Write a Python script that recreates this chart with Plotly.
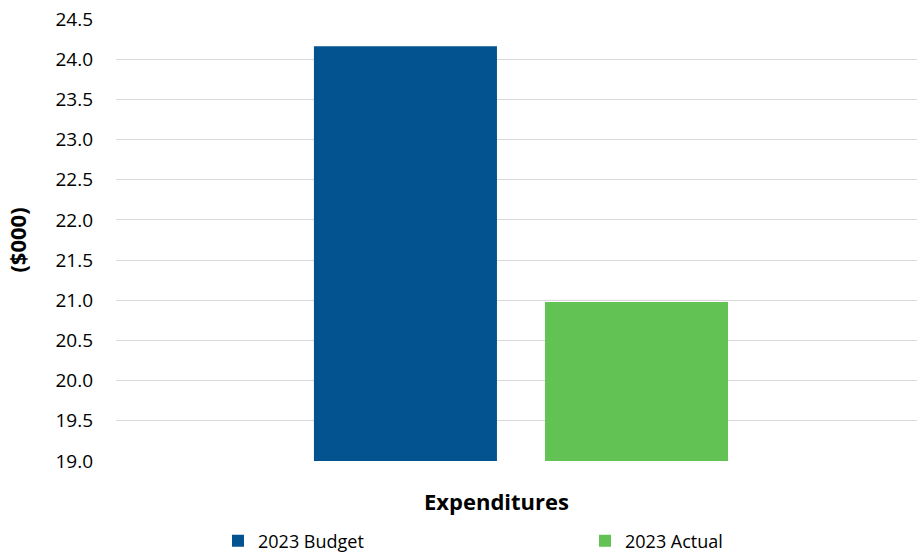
import plotly.graph_objects as go

categories = ["Expenditures"]
series_names = ["2023 Budget", "2023 Actual"]
budget_values = [24.16]
actual_values = [20.98]
colors = ["#02538F", "#63C254"]
y_ticks = [19.0, 19.5, 20.0, 20.5, 21.0, 21.5, 22.0, 22.5, 23.0, 23.5, 24.0, 24.5]

FONT = "Open Sans"

fig = go.Figure()
fig.add_trace(go.Bar(x=categories, y=budget_values, name=series_names[0],
                     marker=dict(color=colors[0], line=dict(width=0)), legend="legend"))
fig.add_trace(go.Bar(x=categories, y=actual_values, name=series_names[1],
                     marker=dict(color=colors[1], line=dict(width=0)), legend="legend2"))

legend_common = dict(orientation="h", xref="container", yref="container",
                     xanchor="left", yanchor="middle", y=(554 - 541) / 554,
                     font=dict(family=FONT, size=18, color="#000000"),
                     itemwidth=30, bgcolor="rgba(0,0,0,0)")

fig.update_layout(
    width=917, height=554,
    margin=dict(l=116, r=0, t=19, b=93, autoexpand=False),
    paper_bgcolor="white", plot_bgcolor="white",
    barmode="group", bargap=0.423, bargroupgap=0.208,
    font=dict(family=FONT, color="#000000", size=18),
    showlegend=True,
    legend=dict(x=218 / 917, **legend_common),
    legend2=dict(x=585 / 917, **legend_common),
    xaxis=dict(showticklabels=False, showgrid=False, zeroline=False, showline=False,
               ticks="", range=[-0.5056, 0.4944]),
    yaxis=dict(range=[19.0, 24.5], tickvals=y_ticks,
               ticktext=[f"{v:.1f}" for v in y_ticks],
               showgrid=True, gridcolor="#D9D9D9", gridwidth=1,
               zeroline=False, showline=False, ticks="", ticklabelstandoff=22,
               tickfont=dict(family=FONT, size=19, color="#000000"),
               title=dict(text="<b>($000)</b>", font=dict(family=FONT, size=22),
                          standoff=22)),
    annotations=[dict(text="<b>Expenditures</b>", xref="paper", yref="paper",
                      x=(496 - 116) / 801, y=(461 - 501) / 442, xanchor="center", yanchor="middle",
                      showarrow=False, font=dict(family=FONT, size=22, color="#000000"))],
)

fig.write_html("out.html")
